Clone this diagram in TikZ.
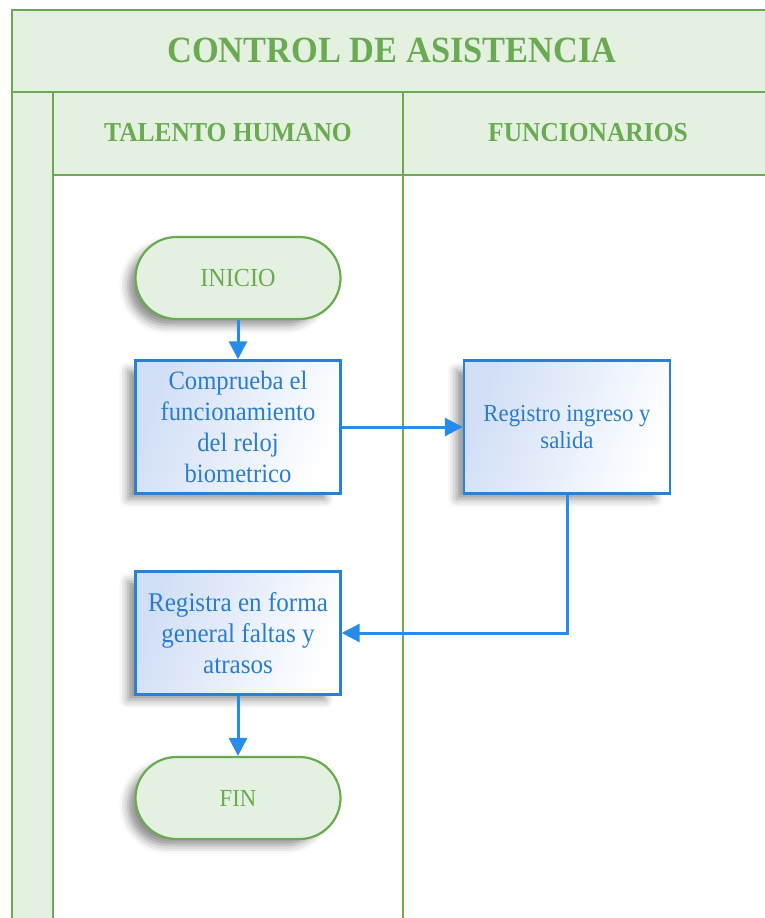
\documentclass[tikz,border=0pt]{standalone}
\usepackage{fontspec}
\setmainfont[FakeStretch=0.93]{Liberation Serif}
\usetikzlibrary{arrows.meta,shadows.blur}
\definecolor{gline}{RGB}{106,170,82}
\definecolor{gfill}{RGB}{229,241,224}
\definecolor{bline}{RGB}{42,128,212}
\definecolor{btext}{RGB}{42,125,205}
\definecolor{barrow}{RGB}{38,139,235}
\definecolor{bfill}{RGB}{208,222,246}
\begin{document}
\begin{tikzpicture}[x=1pt,y=-1pt,
  lane/.style={draw=gline,line width=2.6pt},
  shad/.style={blur shadow={shadow xshift=-12pt,shadow yshift=-8pt,shadow blur radius=9pt,shadow opacity=45,shadow scale=0.96}},
  term/.style={draw=gline,fill=gfill,line width=2.2pt,minimum width=205pt,minimum height=82pt,rounded corners=41pt,text=gline,inner sep=0pt,shad},
  proc/.style={draw=bline,line width=2.4pt,left color=bfill,right color=white,shading angle=70,text=btext,align=center,inner sep=0pt,minimum width=205pt,shad},
  title/.style={text=gline,font=\fontsize{37}{40}\selectfont\bfseries},
  head/.style={text=gline,font=\fontsize{27.4}{30}\selectfont\bfseries},
  flow/.style={draw=barrow,line width=3pt,-{Triangle[length=18pt,width=18pt]}}]
\useasboundingbox (0,0) rectangle (765,918);
\clip (0,0) rectangle (765,918);
% backgrounds
\fill[gfill] (12,10) rectangle (775,92);
\fill[gfill] (12,92) rectangle (53,925);
\fill[gfill] (53,92) rectangle (775,175);
% lines
\draw[lane] (12,925) -- (12,10) -- (775,10);
\draw[lane] (12,92) -- (775,92);
\draw[lane] (53,175) -- (775,175);
\draw[lane] (53,92) -- (53,925);
\draw[lane] (403,92) -- (403,925);
% texts
\node[title] (t) at (392,50) {CONTROL DE ASISTENCIA};
\node[head] (h1) at (228,133) {TALENTO HUMANO};
\node[head] (h2) at (588,133) {FUNCIONARIOS};
% nodes
\node[term,font=\fontsize{26}{30}\selectfont] (inicio) at (238,278) {INICIO};
\node[proc,minimum height=133pt,font=\fontsize{26.5}{31}\selectfont] (b1) at (238,427) {Comprueba el\\funcionamiento\\del reloj\\biometrico};
\node[proc,minimum height=133pt,minimum width=206pt,font=\fontsize{24.5}{27}\selectfont] (b2) at (567,427) {Registro ingreso y\\salida};
\node[proc,minimum height=123pt,font=\fontsize{27}{31}\selectfont] (b3) at (238,633) {Registra en forma\\general faltas y\\atrasos};
\node[term,font=\fontsize{24.5}{28}\selectfont] (fin) at (238,798) {FIN};
% connectors
\draw[flow] (inicio) -- (b1);
\draw[flow] (b1) -- (b2);
\draw[flow] (b2.south) |- (b3.east);
\draw[flow] (b3) -- (fin);
\end{tikzpicture}
\end{document}
